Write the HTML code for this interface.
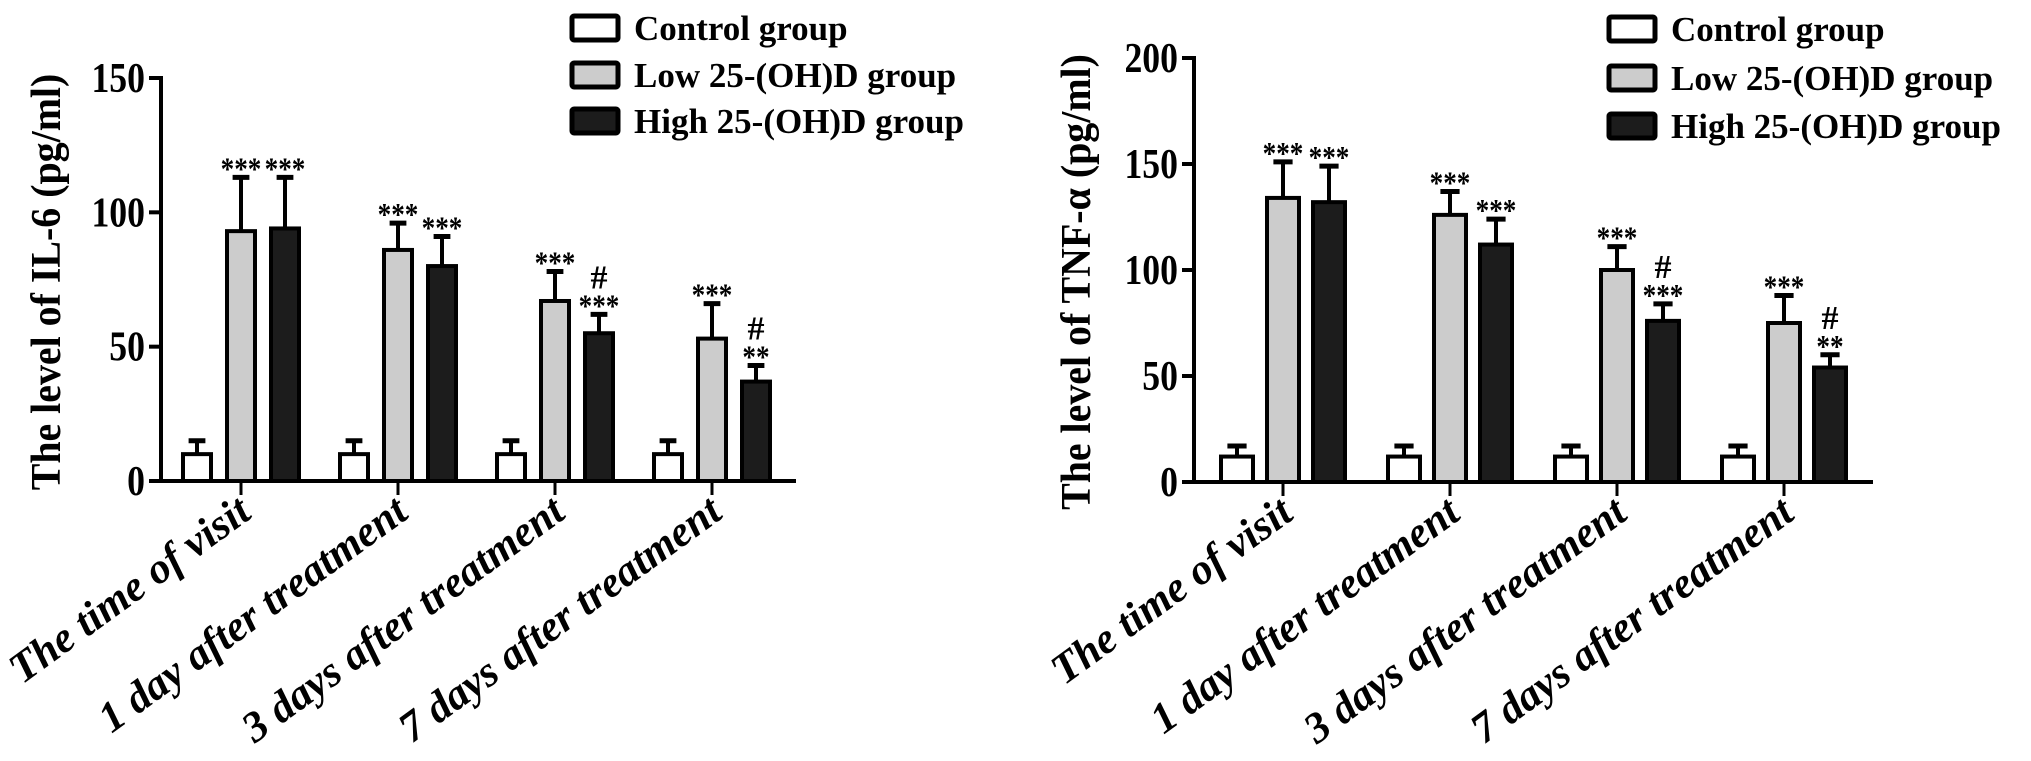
<!DOCTYPE html>
<html><head><meta charset="utf-8"><style>
html,body{margin:0;padding:0;background:#fff;}
svg{display:block;font-family:"Liberation Serif",serif;font-weight:bold;}
</style></head><body>
<svg id="fig" width="2031" height="761" viewBox="0 0 2031 761" xmlns="http://www.w3.org/2000/svg"></svg>
<script>
const categories = ["The time of visit","1 day after treatment","3 days after treatment","7 days after treatment"];
const groups = ["Control group","Low 25-(OH)D group","High 25-(OH)D group"];
// IL-6 chart
const il6Control = [10,10,10,10];
const il6ControlErr = [5,5,5,5];
const il6Low = [93,86,67,53];
const il6LowErr = [20,10,11,13];
const il6High = [94,80,55,37];
const il6HighErr = [19,11,7,6];
const il6Ticks = [0,50,100,150];
const il6LowSig = ["***","***","***","***"];
const il6HighSig = ["***","***","***","**"];
const il6HighHash = ["","","#","#"];
// TNF-a chart
const tnfControl = [12,12,12,12];
const tnfControlErr = [5,5,5,5];
const tnfLow = [134,126,100,75];
const tnfLowErr = [17,11,11,13];
const tnfHigh = [132,112,76,54];
const tnfHighErr = [17,12,8,6];
const tnfTicks = [0,50,100,150,200];
const tnfLowSig = ["***","***","***","***"];
const tnfHighSig = ["***","***","***","**"];
const tnfHighHash = ["","","#","#"];

const NS="http://www.w3.org/2000/svg";
const svg=document.getElementById('fig');
function mk(tag,attrs,parent,text){const e=document.createElementNS(NS,tag);for(const k in attrs)e.setAttribute(k,attrs[k]);if(text!==undefined)e.textContent=text;(parent||svg).appendChild(e);return e;}
const fills=["#ffffff","#cccccc","#1c1c1c"];

function chart(cfg){
  const g=mk('g',{});
  
  
  const y=v=>cfg.y0-(v-0)/(cfg.max)*(cfg.y0-cfg.yTop);
  const x=i=>cfg.x0+i*cfg.step;
  const ya=mk('line',{x1:cfg.ax,y1:cfg.yTop-2,x2:cfg.ax,y2:cfg.y0+2,stroke:'#000','stroke-width':4},g);
  
  const xa=mk('line',{x1:cfg.ax-8,y1:cfg.y0,x2:cfg.xEnd,y2:cfg.y0,stroke:'#000','stroke-width':4},g);
  
  cfg.ticks.forEach(t=>{
    mk('line',{x1:cfg.ax-12,y1:y(t),x2:cfg.ax,y2:y(t),stroke:'#000','stroke-width':4},g);
    const tl=mk('text',{x:0,y:0,'text-anchor':'end','font-size':42,transform:`translate(${cfg.ax-16},${y(t)+14}) scale(0.85,1)`},g,String(t));
    
  });
  const yt=mk('text',{x:0,y:0,'text-anchor':'middle','font-size':42,transform:`translate(${cfg.titleX},${cfg.titleY}) rotate(-90) scale(0.95,1)`},g,cfg.title);
  
  const series=[[cfg.c,cfg.ce],[cfg.l,cfg.le],[cfg.h,cfg.he]];
  categories.forEach((c,i)=>{
    const cx=x(i);
    mk('line',{x1:cx,y1:cfg.y0,x2:cx,y2:cfg.y0+14,stroke:'#000','stroke-width':3},g);
    const cl=mk('text',{x:0,y:0,'text-anchor':'end','font-size':43,'font-style':'italic',transform:`translate(${cx+12},${cfg.y0+36}) rotate(-36)`},g,c);
    
    series.forEach((s,k)=>{
      const bx=cx+(k-1)*cfg.off;
      const v=s[0][i],e=s[1][i];
      const top=y(v+e);
      mk('line',{x1:bx,y1:top,x2:bx,y2:y(v),stroke:'#000','stroke-width':4},g);
      mk('line',{x1:bx-cfg.bw*0.3,y1:top,x2:bx+cfg.bw*0.3,y2:top,stroke:'#000','stroke-width':5},g);
      const r=mk('rect',{x:bx-cfg.bw/2,y:y(v),width:cfg.bw,height:cfg.y0-y(v),fill:fills[k],stroke:'#000','stroke-width':4},g);
      
      
      if(k>0){
        const sig=(k==1?cfg.ls:cfg.hs)[i];
        const st=mk('text',{x:0,y:0,'text-anchor':'middle','font-size':32,transform:`translate(${bx},${top+2}) scale(0.85,1)`},g,sig);
        
        if(k==2&&cfg.hh[i]){
          const hs=mk('text',{x:bx,y:top-26,'text-anchor':'middle','font-size':34},g,cfg.hh[i]);
          
        }
      }
    });
  });
  const lg=mk('g',{},g);
  
  groups.forEach((n,k)=>{
    const ly=cfg.legY[k];
    const b=mk('rect',{x:cfg.legX,y:ly,width:46,height:24,fill:fills[k],stroke:'#000','stroke-width':5,rx:2},lg);
    
    const t=mk('text',{x:cfg.legX+62,y:ly+24,'font-size':35},lg,n);
    
  });
}
chart({name:'il6-chart',ax:161,y0:481,yTop:78,max:150,xEnd:796,x0:241,step:157,off:44,bw:28,
  ticks:il6Ticks,title:'The level of IL-6 (pg/ml)',titleX:60,titleY:282,
  c:il6Control,ce:il6ControlErr,l:il6Low,le:il6LowErr,h:il6High,he:il6HighErr,ls:il6LowSig,hs:il6HighSig,hh:il6HighHash,
  legX:572,legY:[16,63,109]});
chart({name:'tnf-chart',ax:1194,y0:482,yTop:58,max:200,xEnd:1873,x0:1283,step:167,off:46,bw:32,
  ticks:tnfTicks,title:'The level of TNF-α (pg/ml)',titleX:1090,titleY:282,
  c:tnfControl,ce:tnfControlErr,l:tnfLow,le:tnfLowErr,h:tnfHigh,he:tnfHighErr,ls:tnfLowSig,hs:tnfHighSig,hh:tnfHighHash,
  legX:1609,legY:[17,66,114]});
</script>
</body></html>
